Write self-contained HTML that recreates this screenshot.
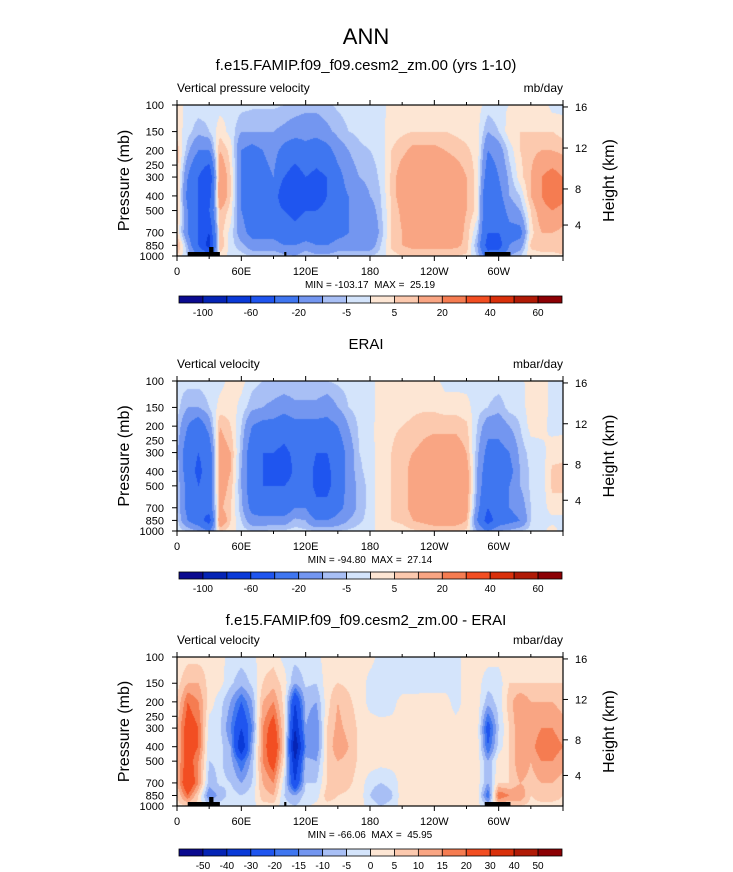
<!DOCTYPE html>
<html><head><meta charset="utf-8">
<style>
html,body{margin:0;padding:0;background:#fff;}
#wrap{position:relative;width:733px;height:872px;overflow:hidden;font-family:"Liberation Sans",Arial,sans-serif;}
canvas{position:absolute;}
svg{position:absolute;left:0;top:0;}
text{white-space:pre;}
</style></head>
<body>
<div id="wrap">
<canvas id="c1"></canvas>
<canvas id="c2"></canvas>
<canvas id="c3"></canvas>
<svg id="svg" width="733" height="872"></svg>
</div>
<script>
// ---------- data ----------
const levels = [100,150,200,300,400,500,700,850,1000];
const lonStep = 10;
const p1Vals = [
[3,3,8,8,8,8,5,12,5],[-2,-3,-8,-20,-25,-20,-20,-10,-5],[-2,-8,-20,-40,-40,-40,-40,-40,-20],[-3,-5,-20,-60,-50,-40,-60,-70,-30],
[-2,3,10,20,20,10,8,10,3],[-1,-2,3,5,5,3,-2,-3,-2],[-3,-10,-20,-20,-20,-20,-15,-8,-3],[-4,-10,-25,-30,-30,-30,-25,-15,-5],
[-4,-10,-20,-25,-25,-30,-25,-15,-5],[-4,-10,-15,-20,-25,-30,-25,-15,-5],[-5,-12,-25,-40,-60,-40,-30,-20,-8],[-6,-15,-30,-50,-55,-45,-35,-20,-10],
[-8,-15,-25,-40,-45,-40,-30,-15,-5],[-8,-15,-30,-45,-50,-40,-30,-20,-8],[-6,-12,-25,-40,-40,-35,-30,-20,-8],[-4,-8,-15,-25,-25,-25,-25,-15,-6],
[-3,-5,-10,-15,-20,-20,-20,-15,-5],[-3,-4,-6,-10,-15,-18,-20,-15,-5],[-2,-3,-5,-8,-10,-15,-20,-15,-5],[-2,-2,-3,-4,-5,-6,-8,-5,-3],
[2,3,5,6,6,5,5,6,3],[3,4,8,15,15,12,10,10,5],[3,5,12,18,18,15,12,12,6],[3,5,12,18,18,18,15,12,6],
[3,5,12,18,18,18,16,12,6],[3,5,10,18,18,18,16,12,6],[3,4,8,15,15,15,15,12,5],[3,3,6,10,10,10,8,8,4],
[2,2,3,3,3,3,-5,-10,-5],[-2,-10,-20,-30,-40,-40,-40,-50,-30],[-1,-5,-15,-20,-25,-30,-40,-50,-25],[0,3,-3,-8,-10,-15,-25,-20,-10],
[3,5,5,3,-5,-10,-25,-15,-5],[3,5,8,10,10,5,3,6,3],[3,5,10,20,20,15,10,8,3],[-2,5,10,25,30,20,10,8,3],
[-2,3,8,20,25,15,8,10,4]];
const p2Vals = [
[-3,-3,-5,-8,-5,-5,-5,-3,-3],[-3,-10,-20,-30,-30,-25,-25,-20,-5],[-3,-10,-30,-40,-45,-40,-40,-30,-10],[-2,-5,-15,-30,-30,-30,-30,-50,-20],
[-2,2,10,15,15,15,12,20,5],[2,3,5,10,10,8,5,5,3],[2,-2,-5,-8,-10,-10,-8,-5,-3],[-3,-8,-20,-30,-30,-30,-25,-15,-5],
[-5,-10,-25,-40,-40,-40,-30,-15,-5],[-5,-12,-25,-40,-45,-40,-30,-15,-4],[-5,-15,-30,-45,-55,-40,-30,-15,-4],[-5,-12,-25,-35,-35,-30,-20,-8,-3],
[-5,-12,-25,-30,-30,-30,-20,-10,-4],[-5,-12,-25,-40,-45,-45,-35,-20,-5],[-5,-15,-25,-40,-45,-45,-35,-20,-5],[-4,-10,-20,-30,-30,-30,-25,-15,-5],
[-3,-5,-10,-15,-15,-15,-15,-10,-4],[-3,-3,-4,-5,-6,-8,-8,-6,-3],[-2,-2,-2,-3,-3,-3,-3,-3,-2],[2,2,3,4,4,3,3,3,2],
[3,3,4,5,5,5,5,5,3],[3,3,5,8,8,8,8,6,3],[3,4,6,10,12,12,12,10,4],[3,4,8,12,15,15,15,12,5],
[2,4,8,15,18,18,18,15,5],[-2,3,8,15,18,18,18,15,5],[-2,3,8,15,18,18,18,15,5],[-2,2,6,10,15,15,15,10,4],
[-2,-3,-5,-8,-10,-10,-15,-20,-10],[-2,-5,-15,-25,-30,-35,-40,-50,-20],[-2,-8,-15,-25,-20,-20,-25,-30,-10],[-2,-3,-10,-20,-25,-20,-20,-25,-8],
[-2,-3,-5,-8,-10,-10,-15,-20,-5],[3,3,2,-3,-4,-4,-5,-5,-3],[3,3,2,-2,-3,-3,-3,-3,-2],[-2,-2,-2,3,6,6,3,-2,3],
[-2,-2,-2,4,6,6,3,-2,-3]];
const p3Vals = [
[0,3,5,10,10,10,10,5,3],[3,10,20,25,25,25,30,20,5],[3,10,15,20,20,15,15,5,3],[3,3,3,-3,-4,-5,-8,-15,-5],
[2,2,-3,-4,-3,-4,-4,-8,-3],[-2,-4,-10,-15,-10,-8,-5,-3,-2],[-3,-8,-20,-30,-40,-20,-10,-5,-3],[-2,-4,-10,-15,-10,-8,-5,-3,-2],
[3,5,10,15,15,15,10,8,3],[3,8,15,25,30,25,15,10,3],[-2,3,3,5,5,3,-3,-5,-3],[-3,-10,-30,-40,-50,-40,-30,-10,-5],
[-2,-4,-8,-10,-15,-8,-5,-3,-2],[-2,-5,-10,-15,-15,-10,-5,-3,2],[3,3,3,5,5,5,5,8,3],[3,5,10,12,15,10,8,5,3],
[3,4,6,8,10,8,6,4,3],[3,3,3,4,4,4,3,3,2],[2,-2,-2,3,3,3,-3,-5,-2],[-2,-3,-3,2,2,2,-5,-10,-5],
[-2,-3,-2,2,2,2,-3,-6,-3],[-2,-3,2,2,2,2,2,3,2],[-2,-3,2,2,2,2,2,3,2],[-2,-2,2,2,3,2,2,3,2],
[-2,-2,2,2,3,2,2,3,2],[-2,-2,2,2,2,2,2,3,2],[-2,-2,-2,2,2,2,2,2,2],[2,2,2,2,2,2,2,2,2],
[2,2,3,3,3,3,3,3,2],[2,-3,-8,-25,-20,-10,-10,-20,-5],[2,-3,-3,-5,-3,3,5,20,5],[3,5,8,5,5,5,5,15,5],
[3,5,15,15,15,15,10,15,5],[3,5,10,10,12,10,8,5,3],[3,5,10,15,20,15,10,8,3],[3,5,10,15,18,15,10,8,3],
[3,5,8,12,15,12,8,5,3]];
const boundsA = [-100,-80,-60,-40,-20,-10,-5,0,5,10,20,30,40,50,60];
const boundsB = [-50,-40,-30,-20,-15,-10,-5,0,5,10,15,20,30,40,50];
const cbLabelsA = ['','-100','','-60','','-20','','-5','','5','','20','','40','','60',''];
const cbLabelsB = ['','-50','-40','-30','-20','-15','-10','-5','0','5','10','15','20','30','40','50',''];
const palette = ['#0b0a8f','#0524b5','#0a3ad8','#1f55ef','#3f76f0','#7396f0','#a8bff5','#d4e4fb','#fde6d4','#fcc9ae','#f9a583','#f57c51','#f24e22','#d9300b','#b01a06','#8c0004'];
const pTicks = [100,150,200,250,300,400,500,700,850,1000];
const hTicks = ['16','12','8','4'];
const hFrac = [0.013,0.285,0.556,0.795];
const lonTicks = [0,60,120,180,240,300,360];
const lonLabels = ['0','60E','120E','180','120W','60W',''];
const land1 = [[10,40,4],[30,34,9],[100,102,4],[287,311,4]];
const land3 = [[10,40,4],[30,34,9],[100,102,4],[287,311,4]];

// ---------- helpers ----------
const NS='http://www.w3.org/2000/svg';
const svg=document.getElementById('svg');
function el(tag,attrs,parent){const e=document.createElementNS(NS,tag);for(const k in attrs)e.setAttribute(k,attrs[k]);(parent||svg).appendChild(e);return e;}
function txt(x,y,s,size,anchor,name,extra){const t=el('text',Object.assign({x:x,y:y,'font-size':size,'text-anchor':anchor||'middle','font-family':'Liberation Sans, Arial, sans-serif',fill:'#000'},extra||{}));t.textContent=s;


return t;}
function hex(c){return [parseInt(c.substr(1,2),16),parseInt(c.substr(3,2),16),parseInt(c.substr(5,2),16)];}

function panel(cfg){
  const {id,vals,bounds,x0,y0,W,H,land,title,titleY,left,right,minmax,cbLabels,cbY,pfx}=cfg;
  const xs=lon=>x0+lon/360*W;
  const ys=p=>y0+Math.log10(p/100)*H;
  const cv=document.getElementById(id);
  cv.width=W;cv.height=H;cv.style.left=x0+'px';cv.style.top=y0+'px';
  const ctx=cv.getContext('2d');const img=ctx.createImageData(W,H);
  const lp=levels.map(p=>Math.log10(p));
  const rgb=palette.map(hex);
  for(let py=0;py<H;py++){
    const l=2+(py+0.5)/H;
    let k=0;while(k<lp.length-2&&l>lp[k+1])k++;
    const fy=Math.min(1,Math.max(0,(l-lp[k])/(lp[k+1]-lp[k])));
    for(let px=0;px<W;px++){
      const lon=(px+0.5)/W*360;
      let j=Math.min(vals.length-2,Math.floor(lon/lonStep));
      const fx=(lon-j*lonStep)/lonStep;
      const v=(vals[j][k]*(1-fx)+vals[j+1][k]*fx)*(1-fy)+(vals[j][k+1]*(1-fx)+vals[j+1][k+1]*fx)*fy;
      let i=0;while(i<bounds.length&&v>=bounds[i])i++;
      const c=rgb[i],o=(py*W+px)*4;
      img.data[o]=c[0];img.data[o+1]=c[1];img.data[o+2]=c[2];img.data[o+3]=255;
    }
  }
  ctx.putImageData(img,0,0);
  if(land){land.forEach(L=>{const r=el('rect',{x:xs(L[0]),y:y0+H-L[2],width:xs(L[1])-xs(L[0]),height:L[2],fill:'#000'});
    
    });}
  const fr=el('rect',{x:x0,y:y0,width:W,height:H,fill:'none',stroke:'#000','stroke-width':1.2});
  
  
  if(title)txt(366,titleY,title,15,'middle',pfx+'-title');
  txt(x0,y0-13,left,12,'start',pfx+'-left-subtitle');
  txt(x0+W,y0-13,right,12,'end',pfx+'-units');
  for(let lon=0;lon<=360;lon+=30){
    const major=lon%60===0,len=major?5:3;
    el('line',{x1:xs(lon),x2:xs(lon),y1:y0+H,y2:y0+H+len,stroke:'#000'});
    el('line',{x1:xs(lon),x2:xs(lon),y1:y0,y2:y0-len,stroke:'#000'});
  }
  lonTicks.forEach((lon,i)=>{if(lonLabels[i])txt(xs(lon),y0+H+19,lonLabels[i],11,'middle',pfx+'-x-tick-label');});
  pTicks.forEach(p=>{el('line',{x1:x0-5,x2:x0,y1:ys(p),y2:ys(p),stroke:'#000'});
    txt(x0-13,ys(p)+4,String(p),11,'end',pfx+'-y-tick-label');});
  txt(0,0,'Pressure (mb)',16,'middle',pfx+'-y-axis-title',{transform:'translate(129,'+(y0+H/2)+') rotate(-90)'});
  hFrac.forEach((f,i)=>{el('line',{x1:x0+W,x2:x0+W+5,y1:y0+f*H,y2:y0+f*H,stroke:'#000'});
    txt(x0+W+12,y0+f*H+4,hTicks[i],11,'start',pfx+'-right-tick-label');});
  txt(0,0,'Height (km)',16,'middle',pfx+'-right-axis-title',{transform:'translate(614,'+(y0+H/2)+') rotate(-90)'});
  txt(370,y0+H+32,minmax,10,'middle',pfx+'-min-max-label');
  const cx0=179,cw=383/16;
  for(let i=0;i<16;i++){const r=el('rect',{x:cx0+i*cw,y:cbY,width:cw,height:7,fill:palette[i],stroke:'#000','stroke-width':0.8});
    
    }
  cbLabels.forEach((s,i)=>{if(s)txt(cx0+i*cw,cbY+20,s,10,'middle',pfx+'-colorbar-label');});
}

txt(366,44,'ANN',22,'middle','main-title');
panel({id:'c1',vals:p1Vals,bounds:boundsA,x0:177,y0:105,W:386,H:151,land:land1,title:'f.e15.FAMIP.f09_f09.cesm2_zm.00 (yrs 1-10)',titleY:70,
  left:'Vertical pressure velocity',right:'mb/day',minmax:'MIN = -103.17  MAX =  25.19',cbLabels:cbLabelsA,cbY:296,pfx:'panel1'});
panel({id:'c2',vals:p2Vals,bounds:boundsA,x0:177,y0:381,W:386,H:150,land:null,title:'ERAI',titleY:349,
  left:'Vertical velocity',right:'mbar/day',minmax:'MIN = -94.80  MAX =  27.14',cbLabels:cbLabelsA,cbY:572,pfx:'panel2'});
panel({id:'c3',vals:p3Vals,bounds:boundsB,x0:177,y0:657,W:386,H:149,land:land3,title:'f.e15.FAMIP.f09_f09.cesm2_zm.00 - ERAI',titleY:625,
  left:'Vertical velocity',right:'mbar/day',minmax:'MIN = -66.06  MAX =  45.95',cbLabels:cbLabelsB,cbY:849,pfx:'panel3'});
</script>
</body></html>
